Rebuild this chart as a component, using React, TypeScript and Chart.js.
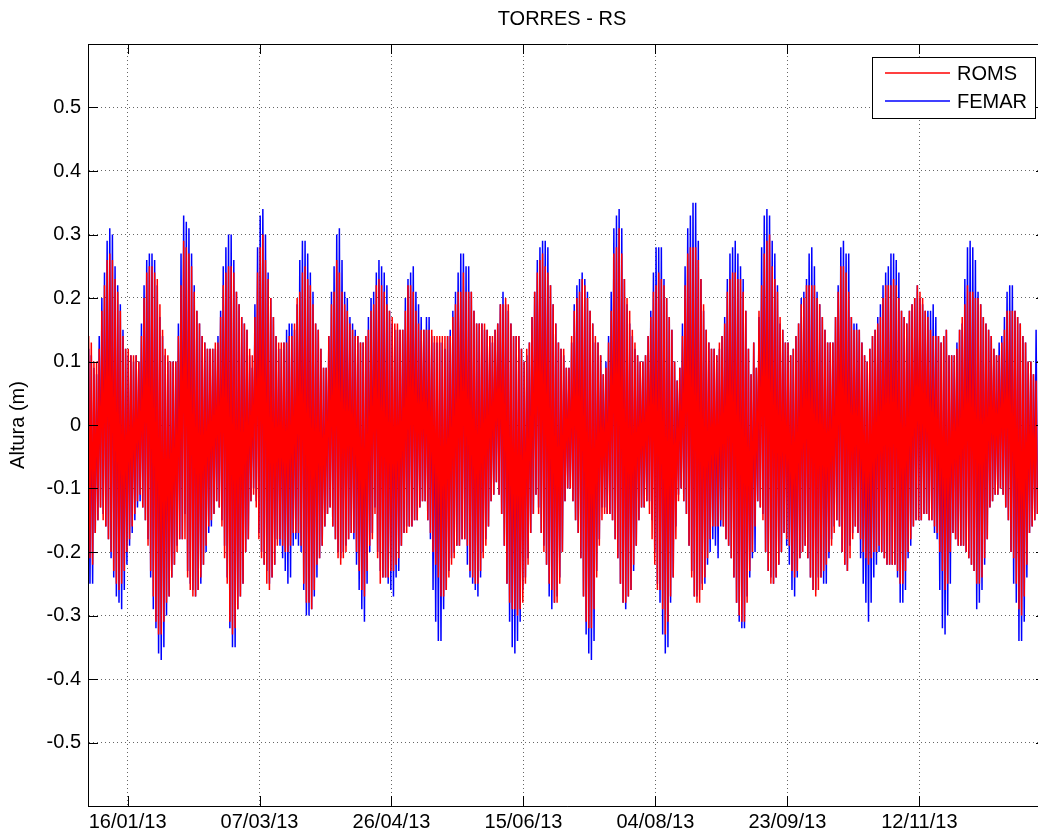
import React, { useEffect, useRef } from 'react';
import { Chart, registerables } from 'chart.js';

Chart.register(...registerables);

const chartTitle = 'TORRES - RS';
const yAxisTitle = 'Altura (m)';
const seriesNames = ['ROMS', 'FEMAR'];
const seriesColors = ['#ff0000', '#0000ff'];
const xTickDays = [15, 65, 115, 165, 215, 265, 315];
const xTickLabels = ['16/01/13', '07/03/13', '26/04/13', '15/06/13', '04/08/13', '23/09/13', '12/11/13'];
const yTickValues = [-0.5, -0.4, -0.3, -0.2, -0.1, 0, 0.1, 0.2, 0.3, 0.4, 0.5];

// Daily high / low water level (cm), day 0 = 01/01/13
const romsHigh = [
  14, 13, 10, 10, 12, 18, 22, 26, 27, 26,
  23, 21, 18, 14, 12, 12, 11, 11, 11, 10,
  14, 20, 24, 25, 25, 24, 23, 19, 15, 12,
  11, 10, 10, 10, 14, 22, 29, 28, 27, 25,
  21, 18, 16, 14, 13, 12, 12, 12, 13, 13,
  17, 22, 24, 25, 25, 24, 21, 19, 17, 16,
  15, 12, 11, 17, 24, 28, 30, 26, 23, 20,
  17, 14, 13, 13, 13, 13, 14, 14, 16, 20,
  21, 24, 25, 23, 22, 19, 16, 15, 12, 9,
  9, 14, 19, 21, 26, 24, 21, 19, 18, 16,
  15, 14, 14, 13, 13, 14, 15, 18, 19, 22,
  23, 22, 21, 19, 18, 17, 16, 16, 15, 15,
  18, 22, 22, 21, 18, 16, 15, 15, 15, 15,
  15, 14, 14, 14, 14, 14, 14, 14, 17, 19,
  21, 21, 24, 21, 21, 21, 18, 16, 16, 16,
  16, 15, 14, 14, 15, 16, 19, 19, 20, 19,
  16, 14, 14, 14, 12, 10, 12, 13, 17, 21,
  24, 26, 27, 25, 24, 22, 19, 16, 13, 12,
  12, 9, 9, 14, 18, 20, 21, 23, 22, 20,
  18, 16, 14, 13, 11, 8, 9, 13, 18, 27,
  28, 31, 27, 23, 20, 18, 15, 13, 11, 10,
  10, 11, 14, 17, 21, 22, 24, 23, 22, 20,
  17, 15, 10, 7, 9, 14, 22, 27, 28, 28,
  28, 26, 23, 19, 15, 13, 12, 12, 11, 13,
  14, 16, 21, 23, 24, 24, 23, 23, 21, 18,
  12, 8, 13, 9, 18, 22, 27, 29, 30, 25,
  23, 21, 17, 15, 13, 13, 11, 12, 14, 16,
  19, 20, 22, 22, 22, 22, 20, 19, 17, 15,
  13, 13, 13, 17, 21, 25, 25, 24, 21, 17,
  15, 15, 15, 13, 11, 10, 12, 14, 15, 16,
  17, 20, 22, 22, 22, 23, 22, 20, 18, 17,
  16, 18, 19, 20, 22, 21, 20, 18, 17, 15,
  14, 14, 14, 13, 14, 15, 11, 11, 11, 12,
  15, 17, 19, 22, 21, 21, 20, 20, 19, 17,
  16, 15, 14, 12, 11, 11, 13, 15, 18, 18,
  18, 18, 17, 16, 14, 13, 10, 10, 8, 7,
];

const romsLow = [
  -21, -22, -17, -15, -13, -15, -16, -18, -20, -23,
  -25, -26, -25, -23, -20, -18, -16, -14, -12, -11,
  -13, -15, -19, -23, -27, -31, -33, -33, -31, -28,
  -27, -24, -22, -20, -18, -18, -18, -24, -26, -27,
  -27, -26, -24, -22, -19, -16, -15, -14, -12, -13,
  -16, -21, -25, -31, -33, -32, -29, -27, -25, -20,
  -18, -12, -11, -13, -18, -21, -22, -25, -26, -24,
  -22, -19, -18, -19, -20, -20, -19, -17, -17, -17,
  -19, -25, -28, -28, -29, -26, -22, -21, -19, -16,
  -14, -13, -16, -18, -21, -22, -21, -20, -18, -17,
  -17, -20, -23, -26, -27, -23, -19, -18, -14, -21,
  -25, -24, -24, -24, -23, -23, -22, -21, -19, -17,
  -17, -16, -16, -15, -15, -13, -12, -12, -15, -17,
  -20, -22, -24, -27, -27, -26, -24, -22, -21, -19,
  -19, -18, -18, -19, -23, -24, -25, -25, -23, -21,
  -19, -16, -12, -11, -9, -11, -14, -19, -25, -28,
  -29, -29, -30, -29, -28, -25, -22, -17, -14, -11,
  -14, -17, -20, -22, -25, -26, -28, -28, -25, -20,
  -12, -10, -10, -12, -15, -17, -21, -27, -31, -32,
  -32, -29, -24, -19, -15, -14, -14, -14, -15, -18,
  -21, -25, -28, -28, -27, -26, -22, -19, -15, -13,
  -13, -12, -14, -18, -22, -26, -26, -29, -33, -31,
  -27, -24, -18, -12, -10, -12, -14, -19, -24, -27,
  -28, -28, -26, -24, -21, -18, -16, -16, -16, -15,
  -16, -18, -19, -21, -24, -28, -30, -31, -31, -28,
  -23, -20, -16, -12, -13, -15, -20, -23, -25, -25,
  -24, -22, -20, -17, -18, -19, -23, -24, -23, -21,
  -20, -19, -21, -24, -26, -27, -26, -24, -23, -22,
  -20, -19, -17, -15, -16, -20, -22, -23, -21, -18,
  -16, -17, -18, -20, -21, -22, -21, -20, -20, -19,
  -20, -21, -22, -22, -22, -22, -23, -25, -25, -23,
  -20, -18, -16, -15, -15, -15, -14, -14, -15, -15,
  -16, -17, -20, -23, -26, -25, -20, -17, -18, -19,
  -19, -19, -20, -21, -22, -23, -25, -25, -24, -21,
  -18, -13, -12, -11, -11, -10, -11, -13, -15, -20,
  -21, -25, -29, -30, -27, -22, -17, -16, -15, -14,
];

const femarHigh = [
  12, 11, 9, 8, 14, 20, 24, 29, 31, 30,
  25, 22, 19, 15, 12, 11, 11, 10, 11, 10,
  16, 22, 26, 27, 27, 26, 22, 17, 14, 11,
  10, 10, 10, 10, 16, 27, 33, 32, 31, 27,
  22, 18, 16, 14, 13, 12, 12, 12, 12, 14,
  18, 25, 28, 30, 30, 26, 21, 19, 17, 16,
  15, 11, 9, 19, 28, 33, 34, 30, 24, 20,
  17, 14, 12, 12, 13, 15, 16, 16, 15, 19,
  26, 29, 29, 27, 24, 21, 16, 15, 12, 9,
  9, 14, 21, 25, 30, 31, 26, 21, 20, 17,
  16, 15, 14, 13, 13, 14, 17, 20, 21, 24,
  26, 25, 24, 22, 18, 16, 15, 15, 15, 15,
  20, 23, 24, 25, 21, 19, 17, 15, 17, 17,
  14, 13, 13, 13, 13, 12, 14, 15, 18, 21,
  24, 27, 27, 25, 25, 21, 18, 16, 16, 16,
  15, 15, 14, 13, 15, 16, 19, 21, 19, 18,
  16, 14, 14, 14, 12, 10, 11, 13, 17, 21,
  26, 28, 29, 29, 28, 22, 19, 16, 13, 12,
  11, 9, 9, 13, 19, 22, 23, 24, 23, 21,
  18, 16, 13, 13, 11, 8, 10, 14, 21, 31,
  33, 34, 31, 23, 19, 16, 14, 12, 11, 10,
  10, 11, 14, 18, 24, 28, 28, 28, 23, 20,
  17, 15, 10, 7, 9, 16, 25, 31, 33, 35,
  35, 29, 23, 18, 15, 13, 12, 12, 11, 12,
  14, 17, 23, 27, 28, 29, 27, 25, 23, 18,
  12, 8, 13, 9, 17, 28, 33, 34, 33, 29,
  27, 22, 16, 15, 13, 13, 11, 12, 14, 16,
  20, 21, 23, 27, 28, 25, 21, 19, 17, 15,
  13, 13, 13, 17, 22, 28, 29, 27, 27, 17,
  16, 16, 15, 13, 11, 10, 12, 14, 15, 17,
  19, 22, 24, 25, 27, 27, 26, 24, 18, 17,
  16, 18, 19, 20, 22, 20, 19, 18, 18, 18,
  19, 17, 14, 13, 14, 15, 11, 11, 11, 13,
  15, 16, 23, 28, 29, 28, 26, 21, 19, 17,
  16, 15, 14, 12, 11, 13, 14, 17, 21, 22,
  22, 18, 17, 16, 14, 13, 10, 10, 8, 15,
];

const femarLow = [
  -25, -25, -17, -15, -13, -14, -16, -18, -21, -24,
  -27, -28, -29, -26, -22, -19, -17, -15, -13, -12,
  -13, -15, -18, -24, -29, -32, -36, -37, -35, -30,
  -27, -24, -22, -19, -18, -18, -14, -23, -25, -26,
  -27, -26, -25, -22, -20, -17, -16, -14, -12, -13,
  -15, -19, -24, -32, -35, -35, -29, -27, -25, -20,
  -18, -12, -10, -12, -17, -20, -22, -23, -25, -24,
  -22, -18, -19, -21, -23, -25, -24, -19, -18, -19,
  -20, -26, -30, -30, -29, -27, -24, -21, -19, -16,
  -14, -13, -16, -18, -20, -21, -20, -19, -18, -17,
  -18, -22, -26, -29, -31, -25, -20, -17, -13, -20,
  -23, -24, -24, -25, -26, -27, -24, -23, -19, -17,
  -16, -16, -16, -15, -15, -13, -12, -12, -15, -18,
  -26, -31, -34, -34, -29, -26, -23, -21, -20, -19,
  -19, -18, -18, -22, -24, -25, -26, -27, -24, -20,
  -18, -16, -12, -11, -9, -11, -14, -19, -25, -31,
  -35, -36, -34, -31, -26, -24, -21, -17, -14, -11,
  -13, -17, -19, -22, -27, -29, -28, -27, -24, -20,
  -12, -10, -10, -12, -15, -17, -21, -27, -33, -36,
  -37, -34, -23, -18, -13, -13, -14, -14, -15, -18,
  -21, -25, -28, -29, -27, -26, -23, -19, -15, -13,
  -13, -12, -12, -15, -20, -25, -28, -33, -36, -35,
  -28, -24, -16, -11, -10, -12, -14, -19, -23, -27,
  -27, -26, -25, -25, -22, -20, -18, -19, -21, -16,
  -16, -18, -19, -21, -24, -28, -31, -32, -32, -27,
  -24, -21, -20, -12, -13, -14, -20, -23, -24, -25,
  -24, -22, -20, -17, -19, -22, -26, -27, -24, -21,
  -20, -19, -21, -24, -26, -26, -24, -24, -25, -25,
  -21, -18, -16, -15, -16, -20, -22, -23, -19, -17,
  -16, -17, -21, -25, -28, -31, -28, -24, -22, -20,
  -20, -21, -22, -22, -22, -22, -24, -28, -28, -26,
  -21, -19, -16, -15, -15, -15, -14, -14, -15, -15,
  -17, -18, -26, -32, -33, -30, -25, -17, -18, -19,
  -19, -19, -20, -21, -22, -23, -29, -28, -26, -22,
  -18, -13, -12, -11, -11, -10, -11, -13, -15, -20,
  -25, -28, -34, -34, -31, -24, -17, -16, -15, -14,
];

const FONT = '"Liberation Sans", Arial, Helvetica, sans-serif';

function buildSeries(high: number[], low: number[]) {
  const pts: { x: number; y: number }[] = [];
  for (let d = 0; d < high.length; d++) {
    pts.push({ x: d + 0.25, y: high[d] / 100 });
    pts.push({ x: d + 0.75, y: low[d] / 100 });
  }
  return pts;
}

const framePlugin = {
  id: 'matlabFrame',
  afterDatasetsDraw(chart: any) {
    const { ctx, chartArea } = chart;
    const { left, right, top, bottom } = chartArea;
    const xs = chart.scales.x;
    const ys = chart.scales.y;
    ctx.save();
    ctx.setLineDash([]);
    ctx.strokeStyle = '#000';
    ctx.lineWidth = 1;
    ctx.beginPath();
    ctx.rect(Math.round(left) + 0.5, Math.round(top) + 0.5, Math.round(right - left), Math.round(bottom - top));
    ctx.stroke();
    const tl = 10;
    ctx.beginPath();
    for (const v of yTickValues) {
      const y = Math.round(ys.getPixelForValue(v)) + 0.5;
      ctx.moveTo(left, y);
      ctx.lineTo(left + tl, y);
      ctx.moveTo(right, y);
      ctx.lineTo(right - tl, y);
    }
    for (const v of xTickDays) {
      const x = Math.round(xs.getPixelForValue(v)) + 0.5;
      ctx.moveTo(x, bottom);
      ctx.lineTo(x, bottom - tl);
      ctx.moveTo(x, top);
      ctx.lineTo(x, top + tl);
    }
    ctx.stroke();

    // title
    ctx.fillStyle = '#000';
    ctx.font = `20px ${FONT}`;
    ctx.textAlign = 'center';
    ctx.textBaseline = 'middle';
    ctx.fillText(chartTitle, 562, 19);

    // legend
    const bx = 872, by = 57, bw = 163, bh = 61;
    ctx.fillStyle = '#ffffff';
    ctx.fillRect(bx, by, bw, bh);
    ctx.strokeStyle = '#000000';
    ctx.lineWidth = 1;
    ctx.strokeRect(bx + 0.5, by + 0.5, bw, bh);
    const rows = [73, 101];
    seriesNames.forEach((name, i) => {
      ctx.strokeStyle = seriesColors[i];
      ctx.lineWidth = 1.3;
      ctx.beginPath();
      ctx.moveTo(885, rows[i]);
      ctx.lineTo(950, rows[i]);
      ctx.stroke();
      ctx.fillStyle = '#000000';
      ctx.textAlign = 'left';
      ctx.textBaseline = 'middle';
      ctx.font = `20px ${FONT}`;
      ctx.fillText(name, 957, rows[i] + 1);
    });
    ctx.restore();
  },
};

export default function App() {
  const canvasRef = useRef<HTMLCanvasElement | null>(null);

  useEffect(() => {
    const canvas = canvasRef.current;
    if (!canvas) return;
    const chart = new Chart(canvas, {
      type: 'line',
      data: {
        datasets: [
          {
            label: seriesNames[0],
            data: buildSeries(romsHigh, romsLow),
            borderColor: seriesColors[0],
            borderWidth: 1.5,
            pointRadius: 0,
            tension: 0,
            fill: false,
          },
          {
            label: seriesNames[1],
            data: buildSeries(femarHigh, femarLow),
            borderColor: seriesColors[1],
            borderWidth: 1.5,
            pointRadius: 0,
            tension: 0,
            fill: false,
          },
        ],
      },
      options: {
        animation: false,
        responsive: false,
        devicePixelRatio: 1,
        parsing: false,
        normalized: true,
        layout: { padding: { top: 44, left: 0, right: 0, bottom: 0 } },
        plugins: {
          legend: { display: false },
          title: { display: false },
          tooltip: { enabled: false },
        },
        scales: {
          x: {
            type: 'linear',
            min: 0,
            max: 363,
            afterBuildTicks: (scale: any) => {
              scale.ticks = xTickDays.map((v) => ({ value: v }));
            },
            afterFit: (scale: any) => {
              scale.height = 28;
            },
            ticks: {
              autoSkip: false,
              maxRotation: 0,
              padding: 4,
              color: '#000',
              font: { family: FONT, size: 20 },
              callback: (v: any) => {
                const i = xTickDays.indexOf(Number(v));
                return i >= 0 ? xTickLabels[i] : '';
              },
            },
            grid: { color: 'rgba(0,0,0,0.6)', lineWidth: 1, drawTicks: false },
            border: { display: true, color: '#000', width: 1, dash: [1, 3] },
          },
          y: {
            type: 'linear',
            min: -0.6,
            max: 0.6,
            afterBuildTicks: (scale: any) => {
              scale.ticks = yTickValues.map((v) => ({ value: v }));
            },
            afterFit: (scale: any) => {
              scale.width = 88;
            },
            ticks: {
              padding: 7,
              color: '#000',
              font: { family: FONT, size: 20 },
              callback: (v: any) => {
                const n = Number(v);
                return Math.abs(n) < 1e-9 ? '0' : n.toFixed(1);
              },
            },
            title: {
              display: true,
              text: yAxisTitle,
              color: '#000',
              font: { family: FONT, size: 20 },
              padding: { top: 6, bottom: 0 },
            },
            grid: { color: 'rgba(0,0,0,0.6)', lineWidth: 1, drawTicks: false },
            border: { display: true, color: '#000', width: 1, dash: [1, 3] },
          },
        },
      },
      plugins: [framePlugin],
    } as any);
    return () => chart.destroy();
  }, []);

  return (
    <div
      style={{
        position: 'absolute',
        left: 0,
        top: 0,
        width: 1038,
        height: 834,
        overflow: 'hidden',
        background: '#fff',
      }}
    >
      <canvas ref={canvasRef} width={1046} height={834} style={{ display: 'block', width: 1046, height: 834 }} />
    </div>
  );
}
